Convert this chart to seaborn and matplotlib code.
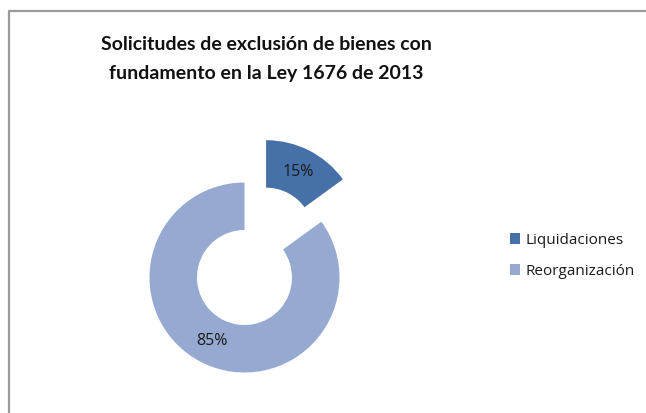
import matplotlib
matplotlib.use("Agg")
import matplotlib.pyplot as plt
import seaborn as sns
from matplotlib.lines import Line2D

categories = ["Liquidaciones", "Reorganización"]
values = [15, 85]
title = "Solicitudes de exclusión de bienes con\nfundamento en la Ley 1676 de 2013"

sns.set_theme(style="white")
plt.rcParams['font.family'] = ['Open Sans', 'DejaVu Sans']
colors = ["#4671A8", "#95A9D1"]

W, H = 646, 413
fig = plt.figure(figsize=(W / 100, H / 100), dpi=100)
fig.patch.set_facecolor("white")

# frame border
fig.add_artist(Line2D([8.5 / W, 8.5 / W], [0, 1 - 10.5 / H], color="#9A9A9A", lw=1.6,
                      transform=fig.transFigure))
fig.add_artist(Line2D([8.5 / W, 1], [1 - 10.5 / H, 1 - 10.5 / H], color="#9A9A9A", lw=1.6,
                      transform=fig.transFigure))

cx, cy, R = 244.5, 277.5, 95.0
x0, x1, y0, y1 = 110, 400, 115, 400
ax = fig.add_axes([x0 / W, 1 - y1 / H, (x1 - x0) / W, (y1 - y0) / H])
ax.axis("off")

wedges, texts, autotexts = ax.pie(
    values, colors=colors, startangle=90, counterclock=False,
    explode=[0.5, 0], radius=1, wedgeprops=dict(width=0.5, linewidth=0),
    autopct=lambda p: f"{p:.0f}%", pctdistance=0.75,
    textprops=dict(fontsize=11.5, color="#1a1a1a"),
)
ax.set_aspect("auto")
ax.set_xlim((x0 - cx) / R, (x1 - cx) / R)
ax.set_ylim((cy - y1) / R, (cy - y0) / R)

fig.text(266 / W, 1 - 59 / H, title, ha="center", va="center", fontsize=14,
         fontweight="bold", color="#111111", linespacing=1.8,
         family=['Lato', 'DejaVu Sans'])

leg = fig.legend(wedges, categories, loc="center left",
                 bbox_to_anchor=(496 / W, 1 - 256 / H), frameon=False,
                 fontsize=11, handlelength=0.7, handleheight=0.7,
                 handletextpad=0.3, labelspacing=1.05)
for t in leg.get_texts():
    t.set_color("#1a1a1a")

fig.savefig("out.png", dpi=100, facecolor="white")
